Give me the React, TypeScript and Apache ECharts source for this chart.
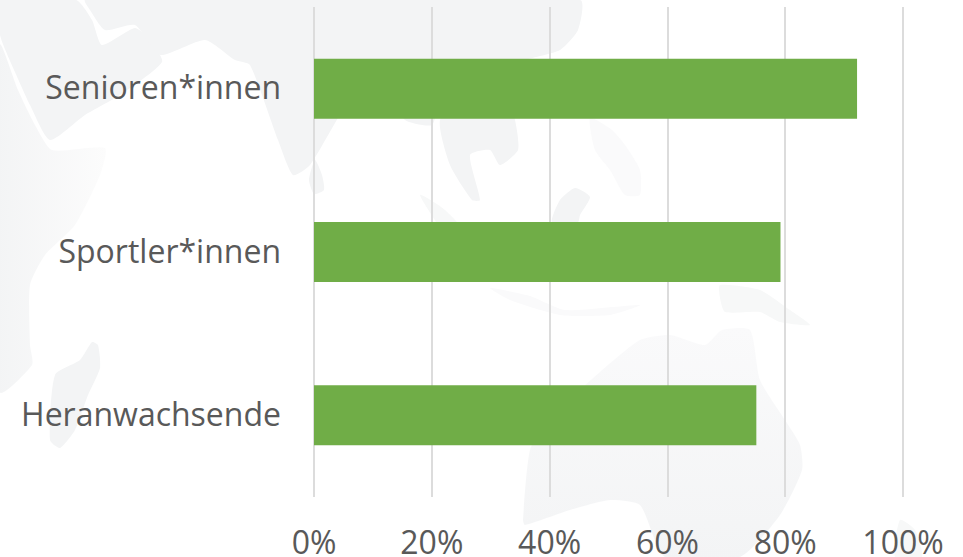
import React, { useEffect, useRef } from "react";
import * as echarts from "echarts";

const categories = ["Senioren*innen", "Sportler*innen", "Heranwachsende"];
const values = [92.2, 79.2, 75.1];
const xTicks = [0, 20, 40, 60, 80, 100];

const DARK = "#f3f4f5";
const MID = "#f7f8f8";
const PALE = "#fafafb";

const fade = (from: string, to: string, vertical: boolean) =>
  new echarts.graphic.LinearGradient(0, 0, vertical ? 0 : 1, vertical ? 1 : 0, [
    { offset: 0, color: from },
    { offset: 1, color: to },
  ]);

const landShapes: { points: number[][]; fill: any }[] = [
  { fill: DARK, points: [[0,0],[76,0],[92,20],[102,45],[135,28],[150,40],[162,62],[120,95],[85,115],[50,140],[30,105],[15,72],[0,35]] },
  { fill: fade(DARK, "#fcfcfc", false), points: [[0,45],[18,90],[35,125],[52,150],[105,148],[100,175],[75,225],[45,255],[30,285],[30,345],[32,365],[0,392]] },
  { fill: DARK, points: [[92,342],[98,345],[100,368],[88,395],[75,430],[60,448],[50,440],[55,375],[80,360]] },
  { fill: DARK, points: [[85,0],[580,0],[578,30],[560,50],[525,60],[498,72],[470,70],[440,100],[432,125],[405,120],[380,85],[350,100],[310,165],[293,175],[278,140],[250,65],[235,60],[205,40],[160,55],[135,25],[105,30],[90,10]] },
  { fill: DARK, points: [[315,160],[322,175],[324,190],[314,194],[309,180]] },
  { fill: DARK, points: [[440,120],[470,85],[500,75],[515,120],[518,150],[500,165],[490,150],[470,155],[480,200],[472,200],[450,165]] },
  { fill: MID, points: [[420,195],[445,210],[480,250],[470,265],[445,235]] },
  { fill: DARK, points: [[552,222],[560,200],[575,188],[590,197],[580,215],[578,222]] },
  { fill: PALE, points: [[590,118],[612,130],[625,145],[640,170],[640,195],[625,195],[610,170],[595,150]] },
  { fill: PALE, points: [[490,288],[530,296],[565,310],[640,305],[610,315],[560,315],[510,300]] },
  { fill: MID, points: [[720,285],[760,290],[790,310],[810,325],[780,322],[760,312],[725,312],[720,298]] },
  { fill: fade("#fafafb", DARK, true), points: [[523,520],[530,450],[548,420],[600,372],[640,340],[670,335],[705,345],[722,330],[750,330],[760,380],[785,420],[800,445],[802,470],[780,515],[740,557],[665,557],[640,505],[610,500],[570,510],[525,525]] },
  { fill: MID, points: [[900,520],[915,530],[922,557],[895,557]] },
];

export default function App() {
  const ref = useRef<HTMLDivElement>(null);
  useEffect(() => {
    document.body.style.margin = "0";
    const chart = echarts.init(ref.current!, null, { renderer: "svg" });
    chart.setOption({
      animation: false,
      backgroundColor: "#ffffff",
      textStyle: { fontFamily: "'Open Sans'" },
      graphic: landShapes.map(({ points, fill }) => ({
        type: "polygon",
        z: -10,
        silent: true,
        shape: { points, smooth: 0.2 },
        style: { fill },
      })),
      grid: { left: 314, right: 60, top: 7, bottom: 60, containLabel: false },
      xAxis: {
        type: "value",
        min: xTicks[0],
        max: xTicks[xTicks.length - 1],
        interval: 20,
        axisLine: { show: false },
        axisTick: { show: false },
        splitLine: { show: true, lineStyle: { color: "#dcdcdc", width: 2 } },
        axisLabel: {
          formatter: "{value}%",
          color: "#595959",
          fontSize: 32,
          lineHeight: 28,
          fontFamily: "'Open Sans'",
          margin: 30,
          hideOverlap: false,
          showMinLabel: true,
          showMaxLabel: true,
        },
      },
      yAxis: {
        type: "category",
        inverse: true,
        data: categories,
        axisLine: { show: false },
        axisTick: { show: false },
        axisLabel: {
          color: "#595959",
          fontSize: 32,
          fontFamily: "'Open Sans'",
          margin: 33,
          interval: 0,
          verticalAlign: "bottom",
          lineHeight: 4,
        },
      },
      series: [
        {
          type: "bar",
          data: values,
          barWidth: 60,
          itemStyle: { color: "#70ad47" },
        },
      ],
    });
    return () => chart.dispose();
  }, []);
  return <div ref={ref} style={{ width: 963, height: 557 }} />;
}
